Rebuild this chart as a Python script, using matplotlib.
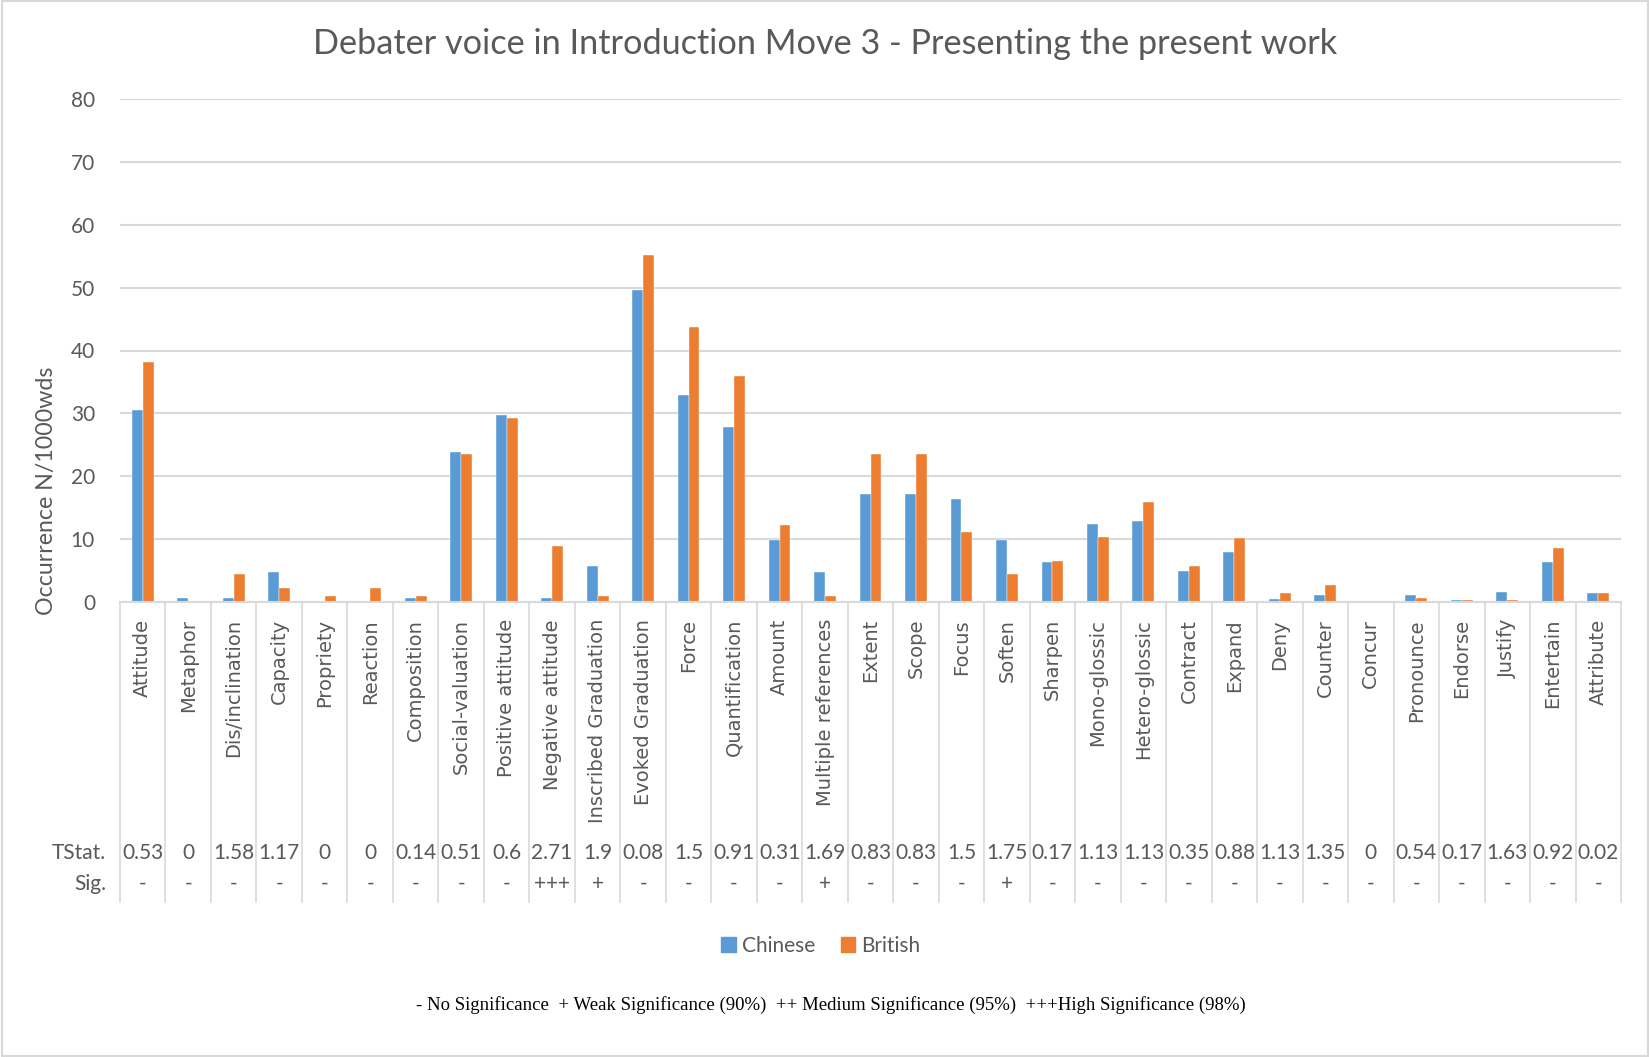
import numpy as np
import matplotlib
matplotlib.use('Agg')
import matplotlib.pyplot as plt
from matplotlib.patches import Rectangle, Patch

# Data
categories = ['Attitude', 'Metaphor', 'Dis/inclination', 'Capacity', 'Propriety',
              'Reaction', 'Composition', 'Social-valuation', 'Positive attitude',
              'Negative attitude', 'Inscribed Graduation', 'Evoked Graduation',
              'Force', 'Quantification', 'Amount', 'Multiple references', 'Extent',
              'Scope', 'Focus', 'Soften', 'Sharpen', 'Mono-glossic', 'Hetero-glossic',
              'Contract', 'Expand', 'Deny', 'Counter', 'Concur', 'Pronounce',
              'Endorse', 'Justify', 'Entertain', 'Attribute']
chinese = [30.6, 0.7, 0.7, 4.8, 0, 0, 0.7, 23.9, 29.7, 0.7, 5.7, 49.6,
           33.0, 27.9, 9.8, 4.8, 17.2, 17.2, 16.4, 9.8, 6.4, 12.4, 12.9,
           4.9, 7.9, 0.4, 1.1, 0, 1.1, 0.3, 1.6, 6.4, 1.4]
british = [38.2, 0, 4.4, 2.2, 1.0, 2.2, 1.0, 23.6, 29.2, 8.9, 1.0, 55.2,
           43.8, 35.9, 12.3, 1.0, 23.5, 23.5, 11.1, 4.4, 6.6, 10.4, 15.9,
           5.8, 10.1, 1.5, 2.7, 0, 0.6, 0.3, 0.3, 8.6, 1.5]
tstat = ['0.53', '0', '1.58', '1.17', '0', '0', '0.14', '0.51', '0.6', '2.71',
         '1.9', '0.08', '1.5', '0.91', '0.31', '1.69', '0.83', '0.83', '1.5',
         '1.75', '0.17', '1.13', '1.13', '0.35', '0.88', '1.13', '1.35', '0',
         '0.54', '0.17', '1.63', '0.92', '0.02']
sig = ['-', '-', '-', '-', '-', '-', '-', '-', '-', '+++', '+', '-', '-', '-',
       '-', '+', '-', '-', '-', '+', '-', '-', '-', '-', '-', '-', '-', '-',
       '-', '-', '-', '-', '-']

text_col = '#595959'
grid_col = '#D9D9D9'
blue = '#5B9BD5'
orange = '#ED7D31'
W, H = 1650, 1057

fig = plt.figure(figsize=(W / 100, H / 100), dpi=100)
fig.patches.append(Rectangle((0.001, 0.001), 0.998, 0.998, transform=fig.transFigure,
                             fill=False, edgecolor=grid_col, linewidth=1.5))

# plot area in pixels: left 120, right 1621, top 99, zero line 602
left, right, top, bottom = 120, 1621, 99, 602
ax = fig.add_axes([left / W, 1 - bottom / H, (right - left) / W, (bottom - top) / H])

n = len(categories)
x = np.arange(n)
bw = 0.24
ax.bar(x - bw / 2, chinese, bw, color=blue, edgecolor='white', linewidth=0.3, label='Chinese')
ax.bar(x + bw / 2, british, bw, color=orange, edgecolor='white', linewidth=0.3, label='British')

ax.set_xlim(-0.5, n - 0.5)
ax.set_ylim(0, 80)
ax.set_yticks(range(0, 81, 10))
ax.yaxis.grid(True, color=grid_col, linewidth=1.5)
ax.set_axisbelow(True)
for s in ['top', 'right', 'left']:
    ax.spines[s].set_visible(False)
ax.spines['bottom'].set_color(grid_col)
ax.spines['bottom'].set_linewidth(1.5)
ax.set_xticks([])
ax.tick_params(axis='y', length=0, pad=18, labelsize=15, labelcolor=text_col)
for lbl in ax.get_yticklabels():
    lbl.set_family('Lato')

# data table below the axis
trans = matplotlib.transforms.blended_transform_factory(ax.transData, ax.transAxes)
ph = bottom - top
table_bottom = -(902 - bottom) / ph
for b in np.arange(-0.5, n, 1.0):
    ax.plot([b, b], [0, table_bottom], transform=trans, color=grid_col,
            linewidth=1.2, clip_on=False)

y_cat = -(619 - bottom) / ph
y_t = -(853 - bottom) / ph
y_s = -(884 - bottom) / ph
for i in range(n):
    ax.text(i, y_cat, categories[i], transform=trans, rotation=90, ha='center',
            va='top', fontsize=14, color=text_col, family='DejaVu Sans')
    ax.text(i, y_t, tstat[i], transform=trans, ha='center', va='center',
            fontsize=15, color=text_col, family='Lato')
    ax.text(i, y_s, sig[i], transform=trans, ha='center', va='center',
            fontsize=15, color=text_col, family='Lato')

fig.text(106 / W, 1 - 853 / H, 'TStat.', ha='right', va='center', fontsize=15,
         color=text_col, family='Lato')
fig.text(106 / W, 1 - 884 / H, 'Sig.', ha='right', va='center', fontsize=15,
         color=text_col, family='Lato')

# titles and labels
fig.text(825 / W, 1 - 44 / H, 'Debater voice in Introduction Move 3 - Presenting the present work',
         ha='center', va='center', fontsize=24.7, color=text_col, family='Lato')
fig.text(47 / W, 1 - 491 / H, 'Occurrence N/1000wds', rotation=90, ha='center',
         va='center', fontsize=16.7, color=text_col, family='Lato')

handles = [Patch(color=blue), Patch(color=orange)]
leg = fig.legend(handles, ['Chinese', 'British'], loc='center',
                 bbox_to_anchor=(821 / W, 1 - 946 / H), ncol=2, frameon=False,
                 handlelength=0.7, handleheight=0.7, handletextpad=0.3,
                 columnspacing=1.2, prop={'family': 'Lato', 'size': 15})
for t in leg.get_texts():
    t.set_color(text_col)

fig.text(831 / W, 1 - 1005 / H,
         '- No Significance  + Weak Significance (90%)  ++ Medium Significance (95%)  +++High Significance (98%)',
         ha='center', va='center', fontsize=13.5, color='black', family='Liberation Serif')

fig.savefig('out.png', dpi=100)
